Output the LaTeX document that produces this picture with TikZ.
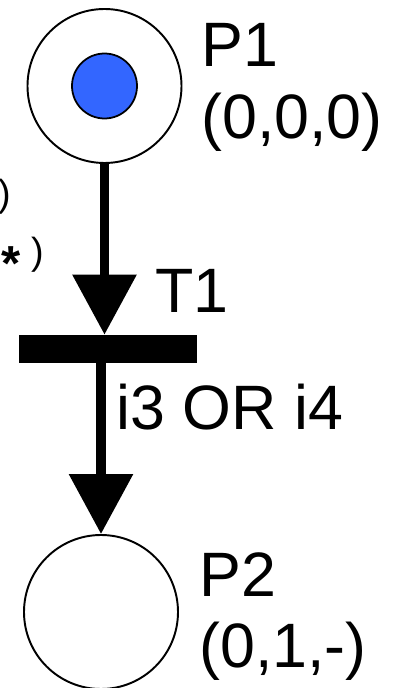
\documentclass[tikz,border=0pt]{standalone}
\usepackage{fontspec}
\setmainfont{Liberation Sans}
\usepackage{tikz}
\usetikzlibrary{positioning, arrows.meta, calc}
\definecolor{markenblau}{HTML}{3366ff}

\begin{document}
\begin{tikzpicture}[font=\fontsize{35.7pt}{40.8pt}\selectfont,
    stelle/.style={circle, draw, line width=1.1pt, minimum size=3.08cm, inner sep=0pt},
    marke/.style={circle, draw, line width=1pt, fill=markenblau, minimum size=1.3cm, inner sep=0pt},
    balken/.style={rectangle, fill=black, minimum width=3.56cm, minimum height=0.56cm, inner sep=0pt},
    pfeil/.style={-{Triangle[length=1.2cm, width=1.24cm]}, line width=5.4pt},
    schrift/.style={inner sep=0pt, align=left},
    klein/.style={font=\fontsize{21.5pt}{25pt}\selectfont}]

    % Rahmen des Bildes
    \useasboundingbox (0, 0) rectangle (7.9, 13.76);

    % Stellen und Transition
    \node[stelle] (p1) at (2.09, 12.04) {};
    \node[marke] (m1) at (p1) {};
    \node[balken] (t1) at (2.16, 6.78) {};
    \node[stelle] (p2) at (2.02, 1.52) {};

    % Kanten
    \draw[pfeil] (p1) -- (p1 |- t1.north);
    \draw[pfeil] (t1.south -| p2) -- (p2);

    % Beschriftungen
    \node[schrift, anchor=north west] (p1text) at (4.02, 13.3) {P1\\(0,0,0)};
    \node[schrift, anchor=base west] (t1text) at (3.1, 7.5) {T1};
    \node[schrift, anchor=base west] (t1bed) at (2.32, 5.16) {i3 OR i4};
    \node[schrift, anchor=north west] (p2text) at (3.98, 2.72) {P2\\(0,1,-)};

    % Reste abgeschnittener Texte am linken Rand
    \node[schrift, klein, anchor=base east] (rest1) at (0.22, 9.62) {)};
    \node[schrift, klein, anchor=base east] (rest2) at (0.88, 8.46)
        {{\fontsize{28pt}{28pt}\selectfont\bfseries\raisebox{-9pt}{*}} )};

\end{tikzpicture}
\end{document}
